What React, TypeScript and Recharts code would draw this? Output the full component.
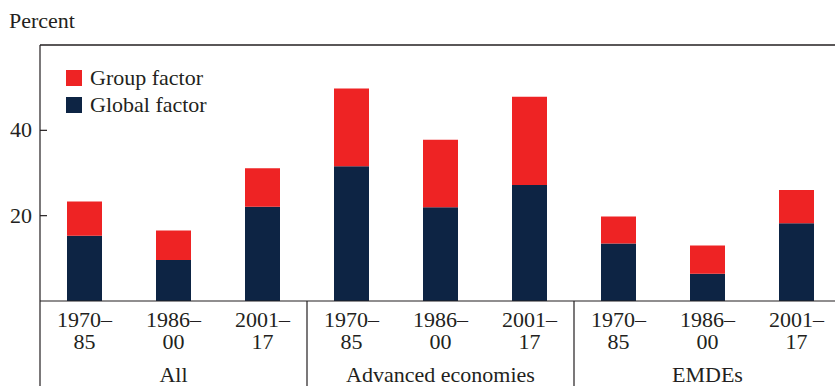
import React from 'react';
import { BarChart, Bar, XAxis, YAxis, ReferenceLine } from 'recharts';

const periods = ['1970–|85', '1986–|00', '2001–|17', '1970–|85', '1986–|00', '2001–|17', '1970–|85', '1986–|00', '2001–|17'];
const groups = ['All', 'Advanced economies', 'EMDEs'];
const globalFactor = [15.3, 9.6, 22.1, 31.6, 22.0, 27.2, 13.5, 6.4, 18.2];
const groupFactor = [8.0, 6.9, 9.0, 18.2, 15.8, 20.7, 6.3, 6.6, 7.8];
const yTicks = [20, 40];

const NAVY = '#0D2444';
const RED = '#EE2324';
const INK = '#231F20';
const FONT = '"Liberation Serif", "Times New Roman", serif';
const CHART_W = 841;
const CHART_H = 386;
const Y_W = 40;
const STEP = (CHART_W - Y_W) / periods.length;

const data = periods.map((p, i) => ({
  period: p,
  global: globalFactor[i],
  group: groupFactor[i],
}));

const XTick = (props: any) => {
  const { x, y, payload, index } = props;
  const [a, b] = String(payload.value).split('|');
  const i = index ?? payload.index;
  return (
    <g>
      <text x={x} y={y + 26} textAnchor="middle" fontSize={22} fontFamily={FONT} fill={INK}>
        <tspan x={x}>{a}</tspan>
        <tspan x={x} dy={22}>{b}</tspan>
      </text>
      {i % 3 === 1 && (
        <text x={x} y={y + 81} textAnchor="middle" fontSize={22} fontFamily={FONT} fill={INK}>
          {groups[Math.floor(i / 3)]}
        </text>
      )}
      {i % 3 === 0 && (
        <line x1={x - STEP / 2} x2={x - STEP / 2} y1={y} y2={CHART_H} stroke={INK} strokeWidth={1.2} />
      )}
    </g>
  );
};

const YTick = (props: any) => {
  const { x, y, payload } = props;
  return (
    <g>
      <line x1={x} x2={x + 7} y1={y} y2={y} stroke={INK} strokeWidth={1.2} />
      <text x={x - 8} y={y + 7} textAnchor="end" fontSize={22} fontFamily={FONT} fill={INK}>{payload.value}</text>
    </g>
  );
};

const legendItems = [
  { color: RED, label: 'Group factor' },
  { color: NAVY, label: 'Global factor' },
];

export default function App() {
  return (
    <div style={{ position: 'absolute', left: 0, top: 0, width: 835, height: CHART_H, overflow: 'hidden', background: '#fff' }}>
      <div style={{ position: 'absolute', left: 9, top: 10, fontFamily: FONT, fontSize: 22, lineHeight: '22px', color: INK }}>
        Percent
      </div>
      <BarChart width={CHART_W} height={CHART_H} data={data} margin={{ top: 45, right: 0, left: 0, bottom: 0 }}>
        <XAxis
          dataKey="period"
          height={85}
          interval={0}
          tickSize={0}
          tickMargin={0}
          tickLine={false}
          axisLine={{ stroke: INK, strokeWidth: 1.2 }}
          tick={<XTick />}
        />
        <YAxis
          domain={[0, 60]}
          ticks={yTicks}
          width={Y_W}
          tickSize={0}
          tickMargin={0}
          tickLine={false}
          axisLine={{ stroke: INK, strokeWidth: 1.2 }}
          tick={<YTick />}
        />
        <ReferenceLine y={60} stroke={INK} strokeWidth={1.5} />
        <Bar dataKey="global" stackId="a" fill={NAVY} barSize={35} isAnimationActive={false} />
        <Bar dataKey="group" stackId="a" fill={RED} barSize={35} isAnimationActive={false} />
      </BarChart>
      <div style={{ position: 'absolute', left: 66, top: 64, fontFamily: FONT, fontSize: 22, color: INK }}>
        {legendItems.map((it) => (
          <div key={it.label} style={{ display: 'flex', alignItems: 'center', height: 27 }}>
            <span style={{ width: 16, height: 16, background: it.color, marginRight: 8, display: 'inline-block' }} />
            <span style={{ lineHeight: '27px' }}>{it.label}</span>
          </div>
        ))}
      </div>
    </div>
  );
}
